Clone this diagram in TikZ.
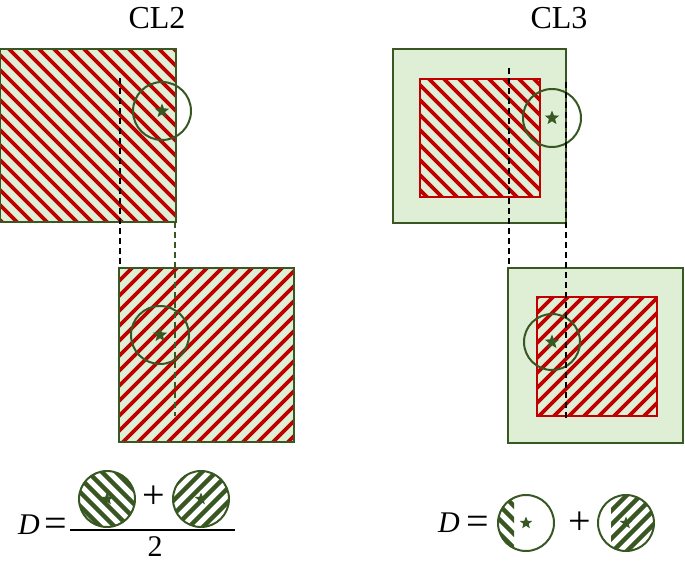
\documentclass[tikz,border=0pt]{standalone}
\usepackage{fontspec}
\setmainfont{Liberation Serif}
\usetikzlibrary{shapes.geometric}
\definecolor{lgreen}{HTML}{DEEFD6}
\definecolor{dgreen}{HTML}{385723}
\definecolor{hred}{HTML}{C00000}
\newcommand{\stripesBack}[2]{% "\" direction
  \foreach \c in {-800,-785,...,900} \draw[#1,line width=#2] (\c,-10) -- ++(700,700);}
\newcommand{\stripesFwd}[2]{% "/" direction
  \foreach \c in {-100,-85,...,1500} \draw[#1,line width=#2] (\c,-10) -- ++(-700,700);}
\newcommand{\stripesBackS}[2]{%
  \foreach \c in {-800,-786,...,900} \draw[#1,line width=#2] (\c,-10) -- ++(700,700);}
\newcommand{\stripesFwdS}[2]{%
  \foreach \c in {-100,-86,...,1500} \draw[#1,line width=#2] (\c,-10) -- ++(-700,700);}
\tikzset{
  sqborder/.style={draw=dgreen,line width=1.8pt},
  redborder/.style={draw=hred,line width=1.8pt},
  ring/.style={draw=dgreen,line width=2pt},
  guide/.style={black,dash pattern=on 6pt off 4pt,line width=2pt},
  guidegreen/.style={dgreen,dash pattern=on 6pt off 4pt,line width=2pt},
  starmark/.style={star,star points=5,star point ratio=2.3,fill=dgreen,inner sep=0pt,minimum size=15pt},
  title/.style={font=\fontsize{32}{32}\selectfont},
  eq/.style={font=\fontsize{30}{30}\selectfont},
  op/.style={font=\fontsize{40}{40}\selectfont},
}
\begin{document}
\begin{tikzpicture}[x=1pt,y=-1pt]
\useasboundingbox (0,0) rectangle (685,562);
% titles
\node[title] (t2) at (157,18) {CL2};
\node[title] (t3) at (559,18) {CL3};

% ---------- CL2 top square ----------
\fill[lgreen] (0,49) rectangle (176,222);
\begin{scope}\clip (0,49) rectangle (176,222); \stripesBack{hred}{3.6pt}\end{scope}
\draw[sqborder] (0,49) rectangle (176,222);
% ---------- CL2 bottom square ----------
\fill[lgreen] (119,268) rectangle (294,442);
\begin{scope}\clip (119,268) rectangle (294,442); \stripesFwd{hred}{3.6pt}\end{scope}
\draw[sqborder] (119,268) rectangle (294,442);

% ---------- CL3 top ----------
\fill[lgreen] (393,49) rectangle (566,223);
\draw[sqborder] (393,49) rectangle (566,223);
\begin{scope}\clip (420,79) rectangle (540,197); \stripesBack{hred}{3.6pt}\end{scope}
\draw[redborder] (420,79) rectangle (540,197);
% ---------- CL3 bottom ----------
\fill[lgreen] (508,268) rectangle (683,443);
\draw[sqborder] (508,268) rectangle (683,443);
\begin{scope}\clip (537,297) rectangle (657,416); \stripesFwd{hred}{3.6pt}\end{scope}
\draw[redborder] (537,297) rectangle (657,416);

% circles and stars
\draw[ring] (162,111) circle (29);
\node[starmark] (s1) at (162,111) {};
\draw[ring] (160,335) circle (29);
\node[starmark] (s2) at (160,335) {};
\draw[ring] (552,118) circle (29);
\node[starmark] (s3) at (552,118) {};
\draw[ring] (552,342) circle (28);
\node[starmark] (s4) at (552,342) {};

% guides
\coordinate (g1a) at (120,78);  \coordinate (g1b) at (120,268);
\coordinate (g2a) at (175,222); \coordinate (g2b) at (175,416);
\coordinate (g3a) at (509,68);  \coordinate (g3b) at (509,268);
\coordinate (g4a) at (566,82);  \coordinate (g4b) at (566,418);
\draw[guide] (g1a) -- (g1b);
\draw[guidegreen] (g2a) -- (g2b);
\draw[guide] (g3a) -- (g3b);
\draw[guide] (g4a) -- (g4b);

% ---------- left formula ----------
\node[eq] (D1) at (29,525) {\textit{D}};
\node[op] (eq1) at (56,527) {=};
\draw[black,line width=2.6pt] (70,530) -- (235,530);
\begin{scope}\clip (107,499) circle (28); \stripesBackS{dgreen}{4.5pt}\end{scope}
\draw[ring] (107,499) circle (28);
\node[starmark,minimum size=13pt] (f1) at (107,499) {};
\node[op] (p1) at (154,497) {+};
\begin{scope}\clip (201,499) circle (28); \stripesFwdS{dgreen}{4.5pt}\end{scope}
\draw[ring] (201,499) circle (28);
\node[starmark,minimum size=13pt] (f2) at (201,499) {};
\node[eq] (two) at (155,547) {2};

% ---------- right formula ----------
\node[eq] (D2) at (449,523) {\textit{D}};
\node[op] (eq2) at (478,525) {=};
\begin{scope}\clip (526,523) circle (28); \clip (490,480) rectangle (514,570); \stripesBackS{dgreen}{4.5pt}\end{scope}
\draw[ring] (526,523) circle (28);
\node[starmark,minimum size=13pt] (f3) at (526,523) {};
\node[op] (p2) at (580,523) {+};
\begin{scope}\clip (626,523) circle (28); \clip (611,480) rectangle (670,570); \stripesFwdS{dgreen}{4.5pt}\end{scope}
\draw[ring] (626,523) circle (28);
\node[starmark,minimum size=13pt] (f4) at (626,523) {};
\end{tikzpicture}
\end{document}
